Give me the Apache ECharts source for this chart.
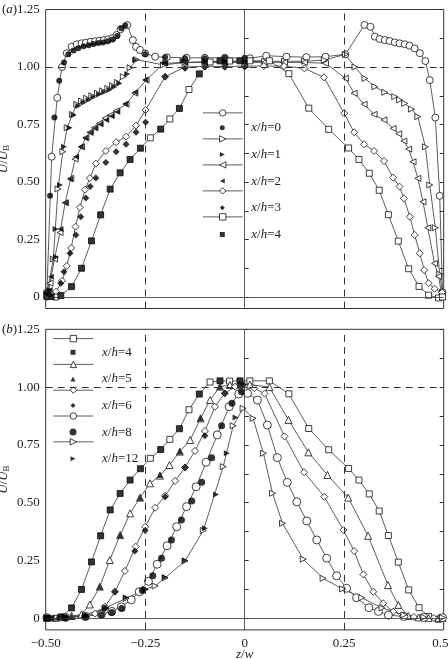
<!DOCTYPE html>
<html>
<head>
<meta charset="utf-8">
<script src="https://cdn.jsdelivr.net/npm/echarts@6/dist/echarts.min.js"></script>
<style>
html,body{margin:0;padding:0;background:#fff}
#chart{width:448px;height:659px}
</style>
</head>
<body>
<div id="chart"></div>
<script>
// values, [z/w, U/UB]
// panel (a)
var a0Open = [[-0.497,0.02],[-0.485,0.61],[-0.471,0.866],[-0.459,1.0],[-0.447,1.06],[-0.435,1.088],[-0.422,1.099],[-0.41,1.103],[-0.399,1.106],[-0.387,1.11],[-0.376,1.112],[-0.365,1.115],[-0.354,1.117],[-0.343,1.12],[-0.332,1.126],[-0.322,1.139],[-0.312,1.164],[-0.295,1.182],[-0.281,1.117],[-0.273,1.088],[-0.263,1.074],[-0.25,1.059],[-0.225,1.045],[-0.196,1.042],[-0.146,1.04],[-0.1,1.04],[-0.05,1.04],[0.013,1.038],[0.054,1.049],[0.105,1.045],[0.155,1.043],[0.203,1.045],[0.253,1.055],[0.301,1.183],[0.316,1.175],[0.327,1.132],[0.339,1.122],[0.352,1.117],[0.364,1.113],[0.377,1.107],[0.389,1.103],[0.402,1.099],[0.414,1.093],[0.427,1.081],[0.44,1.06],[0.454,1.026],[0.465,0.943],[0.479,0.78],[0.49,0.44],[0.497,0.02]];
var a0Fill = [[-0.497,0.02],[-0.489,0.44],[-0.478,0.78],[-0.466,0.94],[-0.454,1.02],[-0.443,1.055],[-0.43,1.072],[-0.418,1.082],[-0.405,1.09],[-0.392,1.095],[-0.38,1.1],[-0.368,1.104],[-0.356,1.107],[-0.344,1.112],[-0.332,1.12],[-0.32,1.135],[-0.31,1.168],[-0.3,1.18],[-0.25,1.055],[-0.2,1.042],[-0.15,1.038],[-0.1,1.038],[-0.05,1.04],[0,1.04]];
var a1Open = [[-0.497,0.01],[-0.481,0.165],[-0.469,0.47],[-0.457,0.632],[-0.446,0.736],[-0.433,0.794],[-0.422,0.838],[-0.41,0.852],[-0.397,0.864],[-0.384,0.875],[-0.37,0.886],[-0.357,0.896],[-0.344,0.907],[-0.332,0.919],[-0.32,0.933],[-0.305,0.958],[-0.288,0.997],[-0.272,1.032],[-0.204,1.009],[-0.15,1.02],[-0.1,1.023],[-0.05,1.023],[0,1.023],[0.05,1.025],[0.1,1.025],[0.15,1.025],[0.2,1.03],[0.253,1.055],[0.277,1.0],[0.302,0.95],[0.327,0.914],[0.352,0.89],[0.377,0.871],[0.389,0.857],[0.402,0.842],[0.419,0.817],[0.435,0.784],[0.454,0.653],[0.465,0.487],[0.479,0.301],[0.49,0.099],[0.497,0.02]];
var a1Fill = [[-0.49,0.03],[-0.474,0.174],[-0.475,0.296],[-0.464,0.487],[-0.454,0.653],[-0.44,0.736],[-0.43,0.79],[-0.418,0.83],[-0.405,0.845],[-0.392,0.857],[-0.38,0.868],[-0.366,0.88],[-0.353,0.89],[-0.34,0.9],[-0.328,0.913],[-0.315,0.928],[-0.295,0.97],[-0.275,1.03],[-0.2,1.02],[-0.156,1.027],[-0.1,1.025],[-0.05,1.025],[0,1.025]];
var a2Open = [[-0.495,0.01],[-0.489,0.06],[-0.478,0.165],[-0.464,0.28],[-0.451,0.41],[-0.437,0.516],[-0.426,0.6],[-0.41,0.653],[-0.399,0.693],[-0.389,0.716],[-0.378,0.736],[-0.365,0.755],[-0.351,0.777],[-0.337,0.791],[-0.323,0.809],[-0.298,0.838],[-0.276,0.886],[-0.248,0.943],[-0.203,1.016],[-0.15,1.02],[-0.1,1.02],[-0.05,1.02],[0,1.02],[0.05,1.02],[0.1,1.02],[0.15,1.02],[0.203,1.016],[0.253,0.951],[0.275,0.886],[0.3,0.838],[0.325,0.794],[0.35,0.77],[0.373,0.733],[0.387,0.71],[0.4,0.678],[0.412,0.643],[0.423,0.588],[0.435,0.516],[0.448,0.414],[0.46,0.301],[0.477,0.146],[0.487,0.09],[0.495,0.01]];
var a2Fill = [[-0.49,0.03],[-0.487,0.088],[-0.463,0.296],[-0.45,0.41],[-0.439,0.512],[-0.424,0.61],[-0.412,0.653],[-0.4,0.69],[-0.387,0.715],[-0.375,0.735],[-0.362,0.752],[-0.348,0.77],[-0.334,0.787],[-0.32,0.805],[-0.3,0.84],[-0.276,0.89],[-0.25,0.945],[-0.2,1.015],[-0.15,1.02],[-0.1,1.02],[-0.05,1.02],[0,1.02]];
var a3Open = [[-0.497,0.0],[-0.474,0.023],[-0.459,0.07],[-0.447,0.135],[-0.436,0.213],[-0.425,0.306],[-0.414,0.39],[-0.401,0.467],[-0.389,0.517],[-0.374,0.58],[-0.349,0.635],[-0.323,0.673],[-0.298,0.697],[-0.273,0.745],[-0.249,0.813],[-0.2,0.958],[-0.15,1.0],[-0.1,1.003],[-0.05,1.002],[0,1.004],[0.048,1.004],[0.099,1.004],[0.15,0.994],[0.199,0.955],[0.25,0.799],[0.275,0.716],[0.3,0.664],[0.325,0.635],[0.35,0.591],[0.373,0.519],[0.389,0.48],[0.4,0.429],[0.415,0.349],[0.427,0.27],[0.44,0.19],[0.451,0.117],[0.462,0.06],[0.477,0.036],[0.496,0.02]];
var a3Fill = [[-0.49,0.01],[-0.462,0.06],[-0.454,0.11],[-0.439,0.19],[-0.424,0.27],[-0.412,0.349],[-0.399,0.43],[-0.388,0.48],[-0.374,0.517],[-0.349,0.585],[-0.323,0.632],[-0.298,0.664],[-0.273,0.716],[-0.249,0.76],[-0.2,0.958],[-0.15,0.995],[-0.1,1.0],[-0.05,1.0],[0,1.0]];
// x/h = 4 appears in both panels
var h4Open = [[-0.497,0.002],[-0.475,0.0],[-0.462,0.006],[-0.435,0.045],[-0.41,0.125],[-0.385,0.244],[-0.362,0.357],[-0.338,0.469],[-0.313,0.54],[-0.288,0.598],[-0.262,0.647],[-0.237,0.692],[-0.211,0.73],[-0.188,0.774],[-0.164,0.82],[-0.14,0.902],[-0.114,0.97],[-0.087,1.022],[-0.062,1.027],[-0.038,1.026],[-0.012,1.027],[0.013,1.027],[0.062,1.027],[0.111,0.971],[0.161,0.821],[0.211,0.729],[0.261,0.648],[0.287,0.598],[0.313,0.538],[0.338,0.464],[0.361,0.358],[0.386,0.243],[0.412,0.123],[0.438,0.046],[0.462,0.008],[0.487,-0.004],[0.497,0.0]];
var h4Fill = [[-0.497,0.002],[-0.485,0.0],[-0.462,0.006],[-0.435,0.045],[-0.41,0.125],[-0.385,0.244],[-0.362,0.357],[-0.338,0.469],[-0.313,0.54],[-0.288,0.598],[-0.262,0.647],[-0.211,0.73],[-0.164,0.82],[-0.114,0.97],[-0.062,1.027],[-0.012,1.027]];
// panel (b)
var b5Open = [[-0.497,0.002],[-0.46,0.005],[-0.435,0.01],[-0.41,0.017],[-0.389,0.06],[-0.364,0.137],[-0.339,0.252],[-0.313,0.36],[-0.288,0.454],[-0.263,0.522],[-0.238,0.584],[-0.213,0.617],[-0.189,0.663],[-0.163,0.721],[-0.137,0.771],[-0.111,0.865],[-0.087,0.944],[-0.062,1.002],[-0.037,1.009],[-0.013,1.01],[0.013,1.011],[0.062,1.0],[0.11,0.858],[0.16,0.718],[0.208,0.62],[0.26,0.522],[0.31,0.357],[0.36,0.144],[0.386,0.058],[0.411,0.01],[0.437,0.004],[0.462,0.002],[0.487,0.001],[0.497,0.002]];
var b5Fill = [[-0.497,0.002],[-0.47,0.004],[-0.435,0.008],[-0.364,0.137],[-0.313,0.36],[-0.263,0.522],[-0.213,0.62],[-0.163,0.721],[-0.111,0.865],[-0.062,1.002],[-0.013,1.01]];
var b6Open = [[-0.497,0.002],[-0.45,0.004],[-0.4,0.01],[-0.376,0.02],[-0.351,0.05],[-0.326,0.115],[-0.301,0.205],[-0.274,0.31],[-0.25,0.396],[-0.225,0.478],[-0.2,0.53],[-0.175,0.594],[-0.15,0.652],[-0.125,0.724],[-0.1,0.81],[-0.075,0.915],[-0.05,0.973],[-0.024,1.002],[0.024,0.995],[0.05,0.972],[0.1,0.787],[0.149,0.632],[0.2,0.526],[0.248,0.382],[0.275,0.291],[0.298,0.19],[0.323,0.115],[0.348,0.065],[0.373,0.029],[0.4,0.012],[0.425,0.006],[0.45,0.003],[0.475,0.002],[0.497,0.002]];
var b6Fill = [[-0.497,0.001],[-0.45,0.003],[-0.4,0.008],[-0.35,0.045],[-0.326,0.115],[-0.276,0.291],[-0.25,0.38],[-0.2,0.526],[-0.15,0.652],[-0.1,0.79],[-0.05,0.973],[-0.003,1.01]];
var b8Open = [[-0.497,0.003],[-0.45,0.004],[-0.4,0.008],[-0.36,0.018],[-0.334,0.03],[-0.31,0.05],[-0.285,0.08],[-0.265,0.115],[-0.242,0.16],[-0.22,0.234],[-0.195,0.314],[-0.171,0.396],[-0.146,0.483],[-0.122,0.569],[-0.097,0.675],[-0.069,0.793],[-0.039,0.915],[-0.015,0.97],[0.007,0.973],[0.032,0.944],[0.057,0.836],[0.082,0.695],[0.107,0.588],[0.131,0.504],[0.156,0.421],[0.181,0.339],[0.206,0.26],[0.231,0.184],[0.256,0.13],[0.281,0.089],[0.312,0.046],[0.336,0.03],[0.361,0.014],[0.4,0.008],[0.45,0.004],[0.497,0.003]];
var b8Fill = [[-0.497,0.002],[-0.45,0.003],[-0.4,0.006],[-0.36,0.015],[-0.334,0.025],[-0.309,0.043],[-0.257,0.12],[-0.231,0.184],[-0.209,0.26],[-0.184,0.339],[-0.159,0.425],[-0.133,0.507],[-0.108,0.588],[-0.083,0.695],[-0.058,0.833],[-0.032,0.93],[-0.008,0.98]];
var b12Open = [[-0.497,0.003],[-0.45,0.005],[-0.4,0.015],[-0.35,0.045],[-0.298,0.086],[-0.25,0.125],[-0.225,0.14],[-0.2,0.175],[-0.15,0.248],[-0.104,0.38],[-0.054,0.656],[-0.029,0.833],[-0.004,0.908],[0.021,0.865],[0.047,0.714],[0.07,0.541],[0.095,0.411],[0.147,0.256],[0.197,0.173],[0.246,0.127],[0.294,0.089],[0.345,0.045],[0.4,0.015],[0.45,0.005],[0.497,0.003]];
var b12Fill = [[-0.497,0.002],[-0.45,0.004],[-0.4,0.012],[-0.35,0.04],[-0.298,0.09],[-0.25,0.125],[-0.2,0.178],[-0.15,0.25],[-0.1,0.39],[-0.072,0.536],[-0.045,0.714],[-0.023,0.869]];

var yLabels = [0, 0.25, 0.5, 0.75, 1, 1.25];
var yTicks = [0, 0.125, 0.25, 0.375, 0.5, 0.625, 0.75, 0.875, 1, 1.125, 1.25];

var FONT = 'Liberation Serif';
var RIGHT_TRI = 'path://M0,0L10,5L0,10Z';
var LEFT_TRI = 'path://M10,0L0,5L10,10Z';
var mychart = echarts.init(document.getElementById('chart'));

function openLine(name, data, xi, yi, sym, rot, size) {
	return {
		name: name, type: 'line', xAxisIndex: xi, yAxisIndex: yi, data: data,
		symbol: sym, symbolRotate: rot, symbolSize: size, showAllSymbol: true,
		lineStyle: {color: '#333', width: 0.8},
		itemStyle: {color: '#fff', borderColor: '#111', borderWidth: 0.8},
		emphasis: {disabled: true}, z: 2
	};
}
function filled(name, data, xi, yi, sym, rot, size) {
	return {
		name: name, type: 'scatter', xAxisIndex: xi, yAxisIndex: yi, data: data,
		symbol: sym, symbolRotate: rot, symbolSize: size,
		itemStyle: {color: '#000'}, emphasis: {disabled: true}, z: 3
	};
}
function refLines() {
	return {
		silent: true, symbol: ['none', 'none'], label: {show: false}, animation: false,
		lineStyle: {color: '#333', width: 1, type: [7, 5]},
		data: [
			{xAxis: 0, lineStyle: {type: 'solid', width: 0.8}},
			{yAxis: 0, lineStyle: {type: 'solid', width: 0.8}},
			{xAxis: -0.25}, {xAxis: 0.25}, {yAxis: 1}
		]
	};
}
function yAxis(gi, side) {
	var left = side === 'left';
	return {
		type: 'value', gridIndex: gi, position: side, min: -0.05, max: 1.25,
		axisLine: {show: false}, splitLine: {show: false},
		axisTick: {show: true, inside: true, length: 4, customValues: yTicks, lineStyle: {color: '#333'}},
		axisLabel: {show: left, customValues: yLabels, margin: 6, color: '#222', fontFamily: FONT, fontSize: 13,
			formatter: function (v) { return v === 0 ? '0' : v.toFixed(2); }},
		name: left ? '{i|U}/{i|U}{s|B}' : '', nameLocation: 'middle', nameGap: 35, nameRotate: 90,
		nameMoveOverlap: false,
		nameTextStyle: {color: '#222', fontFamily: FONT, fontSize: 13,
			rich: {i: {fontStyle: 'italic', fontFamily: FONT, fontSize: 13, color: '#222'},
				s: {fontFamily: FONT, fontSize: 9, color: '#222', verticalAlign: 'bottom', padding: [5, 0, 0, 0]}}}
	};
}
function xAxis(gi, labels) {
	return {
		type: 'value', gridIndex: gi, min: -0.5, max: 0.5, interval: 0.25,
		axisLine: {show: false}, axisTick: {show: false}, splitLine: {show: false},
		axisLabel: {show: labels, margin: 7, color: '#222', fontFamily: FONT, fontSize: 13,
			formatter: function (v) { return v === 0 ? '0' : (v < 0 ? '\u2212' : '') + Math.abs(v).toFixed(2); }},
		name: labels ? '{i|z}/{i|w}' : '', nameLocation: 'middle', nameGap: 18, nameMoveOverlap: false,
		nameTextStyle: {fontFamily: FONT, fontSize: 13, color: '#222',
			rich: {i: {fontStyle: 'italic', fontFamily: FONT, fontSize: 13, color: '#222'}}}
	};
}
function openLegend(names, left, top, gap) {
	return {
		data: names, orient: 'vertical', left: left, top: top, padding: 0,
		itemWidth: 40, itemHeight: 8, itemGap: gap, selectedMode: false,
		itemStyle: {color: '#fff', borderColor: '#111', borderWidth: 0.8},
		lineStyle: {color: '#333', width: 0.8},
		formatter: function () { return ''; },
		textStyle: {lineHeight: 8, fontSize: 8}
	};
}
// one legend per filled entry: symbol under the line-legend symbol, label to the right
function fillLegend(name, label, cx, cy, size, icon, textX) {
	var left = cx - size / 2;
	var item = {name: name};
	if (icon) item.icon = icon;
	return {
		data: [item], left: left, top: cy - 7, padding: 0,
		itemWidth: size, itemHeight: size, selectedMode: false, symbolKeepAspect: true,
		formatter: function () { return '{i|x}/{i|h}=' + label; },
		textStyle: {fontFamily: FONT, fontSize: 13, color: '#222', lineHeight: 14, padding: [0, 0, 0, textX - left - size - 5],
			rich: {i: {fontStyle: 'italic', fontFamily: FONT, fontSize: 13, color: '#222', lineHeight: 14}}}
	};
}

var seriesA0 = openLine('a-0', a0Open, 0, 0, 'circle', 0, 7);
seriesA0.markLine = refLines();
var seriesB4 = openLine('b-4', h4Open, 1, 2, 'rect', 0, 6);
seriesB4.markLine = refLines();

var legends = [
	openLegend(['a-0', 'a-1', 'a-2', 'a-3', 'a-4'], 202.3, 109.3, 18.8),
	openLegend(['b-4', 'b-5', 'b-6', 'b-8', 'b-12'], 53, 335, 18.6)
];
var aIcon = [null, RIGHT_TRI, LEFT_TRI, null, null];
['0', '1', '2', '3', '4'].forEach(function (h, i) {
	legends.push(fillLegend('a-' + h + 'f', h, 222.3, 127.7 + i * 26.7, 5, aIcon[i], 251.3));
});
var bIcon = [null, null, null, null, RIGHT_TRI];
var bSize = [5, 5, 5, 7, 5];
['4', '5', '6', '8', '12'].forEach(function (h, i) {
	legends.push(fillLegend('b-' + h + 'f', h, 73, 352.3 + i * 26.6, bSize[i], bIcon[i], 102));
});

var option = {
	animation: false,
	backgroundColor: '#fff',
	grid: [
		{left: 45.7, width: 398, top: 9.5, height: 299, show: true, borderColor: '#333', borderWidth: 1, outerBoundsMode: 'none', containLabel: false},
		{left: 45.7, width: 398, top: 329.3, height: 300.6, show: true, borderColor: '#333', borderWidth: 1, outerBoundsMode: 'none', containLabel: false}
	],
	xAxis: [xAxis(0, false), xAxis(1, true)],
	yAxis: [yAxis(0, 'left'), yAxis(0, 'right'), yAxis(1, 'left'), yAxis(1, 'right')],
	legend: legends,
	graphic: [
		{type: 'text', left: 2, top: 3, style: {text: '({i|a})', fontFamily: FONT, fontSize: 13, fill: '#222',
			rich: {i: {fontStyle: 'italic', fontFamily: FONT, fontSize: 13, fill: '#222'}}}},
		{type: 'text', left: 2, top: 323, style: {text: '({i|b})', fontFamily: FONT, fontSize: 13, fill: '#222',
			rich: {i: {fontStyle: 'italic', fontFamily: FONT, fontSize: 13, fill: '#222'}}}}
	],
	series: [
		seriesA0,
		openLine('a-1', a1Open, 0, 0, 'triangle', -90, 6),
		openLine('a-2', a2Open, 0, 0, 'triangle', 90, 6),
		openLine('a-3', a3Open, 0, 0, 'diamond', 0, 7),
		openLine('a-4', h4Open, 0, 0, 'rect', 0, 6),
		filled('a-0f', a0Fill, 0, 0, 'circle', 0, 6),
		filled('a-1f', a1Fill, 0, 0, 'triangle', -90, 6),
		filled('a-2f', a2Fill, 0, 0, 'triangle', 90, 6),
		filled('a-3f', a3Fill, 0, 0, 'diamond', 0, 7),
		filled('a-4f', h4Fill, 0, 0, 'rect', 0, 6),
		seriesB4,
		openLine('b-5', b5Open, 1, 2, 'triangle', 0, 7),
		openLine('b-6', b6Open, 1, 2, 'diamond', 0, 7),
		openLine('b-8', b8Open, 1, 2, 'circle', 0, 8),
		openLine('b-12', b12Open, 1, 2, 'triangle', -90, 6),
		filled('b-4f', h4Fill, 1, 2, 'rect', 0, 6),
		filled('b-5f', b5Fill, 1, 2, 'triangle', 0, 6),
		filled('b-6f', b6Fill, 1, 2, 'diamond', 0, 7),
		filled('b-8f', b8Fill, 1, 2, 'circle', 0, 7),
		filled('b-12f', b12Fill, 1, 2, 'triangle', -90, 6)
	]
};
mychart.setOption(option);
</script>
</body>
</html>
